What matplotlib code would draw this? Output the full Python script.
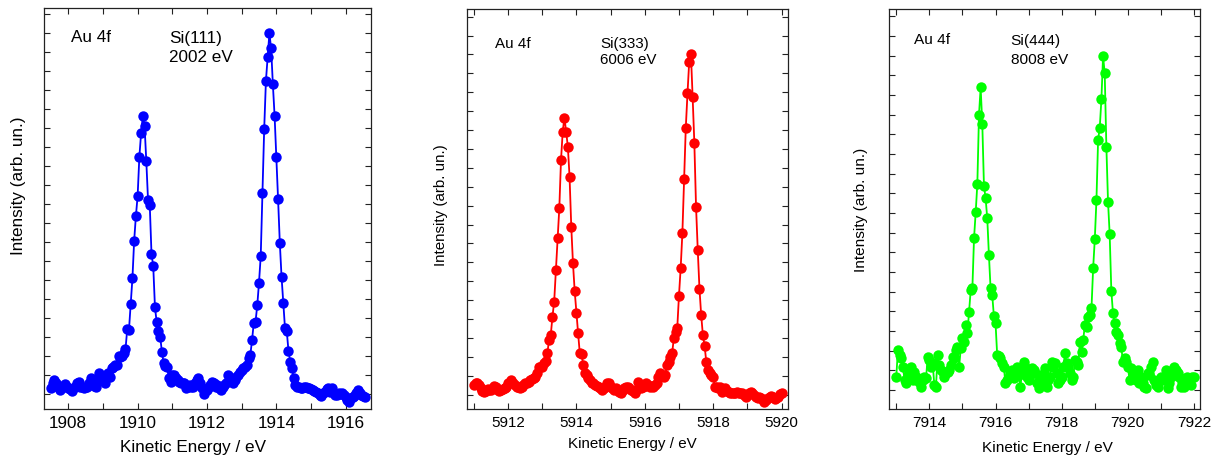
import numpy as np
import matplotlib
matplotlib.use("Agg")
import matplotlib.pyplot as plt
from matplotlib.ticker import MultipleLocator

plt.rcParams['font.family'] = ['Liberation Sans', 'DejaVu Sans']

# energy grids: start of scan, 0.05 eV step
e_step = 0.05
e_start_111 = 1907.5
e_start_333 = 5911.0
e_start_444 = 7913.0

# intensities (arb. un.)
int_111 = [18, 33, 43, 33, 23, 13, 18, 25, 31, 23, 18, 15, 11, 18, 23, 33, 38, 23, 21, 18,
           23, 23, 35, 48, 33, 25, 21, 43, 65, 53, 43, 33, 58, 63, 53, 78, 83, 88, 88, 115,
           113, 115, 125, 135, 195, 193, 270, 348, 461, 535, 595, 713, 783, 835, 805, 700, 583, 568, 421, 385,
           261, 216, 190, 173, 128, 93, 86, 83, 48, 38, 58, 58, 48, 43, 38, 33, 35, 33, 18, 23,
           28, 21, 23, 33, 43, 48, 33, 18, 0, 13, 13, 23, 28, 38, 33, 23, 28, 18, 13, 23,
           28, 33, 58, 48, 43, 33, 43, 53, 58, 68, 73, 78, 83, 88, 108, 118, 163, 215, 218, 267,
           335, 415, 603, 796, 941, 1013, 1083, 1038, 930, 835, 713, 586, 455, 353, 275, 198, 190, 131, 98, 78,
           50, 28, 23, 23, 18, 18, 21, 23, 18, 18, 15, 13, 11, 8, 3, -2, -5, 3, 8, 15,
           18, 8, 18, 3, -2, -2, 3, 1, 5, -2, -7, -17, -22, -12, -7, -5, 3, 13, 5, -2,
           -5, -7]

int_333 = [29, 34, 36, 29, 19, 12, 9, 12, 16, 14, 14, 19, 26, 22, 14, 12, 14, 16, 19, 24,
           36, 34, 44, 36, 29, 24, 22, 19, 24, 29, 34, 36, 39, 44, 46, 49, 54, 64, 84, 82,
           84, 94, 102, 124, 164, 179, 234, 279, 374, 469, 559, 704, 789, 831, 789, 744, 654, 504, 394, 311,
           246, 184, 124, 122, 89, 64, 59, 51, 44, 36, 34, 29, 26, 24, 19, 14, 19, 24, 34, 36,
           24, 19, 14, 19, 14, 9, 6, 14, 19, 24, 22, 19, 14, 12, 6, 14, 39, 29, 19, 24,
           26, 34, 29, 24, 26, 24, 29, 34, 54, 64, 56, 54, 59, 89, 99, 114, 124, 169, 189, 199,
           296, 379, 484, 647, 801, 904, 999, 1022, 894, 756, 564, 434, 318, 239, 179, 146, 99, 74, 66, 59,
           54, 24, 22, 19, 24, 9, 14, 19, 12, 9, 6, 4, 4, 6, 9, 6, 4, 6, -1, -6,
           -1, 4, 9, 6, -1, -6, -11, -8, -11, -16, -21, -16, -11, -6, -4, -8, -14, -11, -6, 2,
           6]

int_444 = [40, 120, 105, 95, 70, 30, 20, 45, 60, 70, 30, 55, 40, 35, 25, 10, 30, 40, 35, 100,
           90, 70, 80, 15, 10, 105, 75, 60, 55, 40, 50, 55, 60, 75, 100, 95, 120, 130, 70, 125,
           155, 145, 195, 170, 235, 300, 305, 455, 533, 618, 825, 908, 798, 613, 575, 515, 405, 305, 285, 222,
           200, 105, 102, 95, 80, 70, 20, 30, 40, 50, 60, 35, 55, 70, 45, 10, 50, 85, 70, 40,
           30, 45, 65, 60, 50, 20, 5, 30, 30, 50, 65, 10, 30, 40, 85, 70, 80, 50, 20, 30,
           40, 70, 110, 80, 70, 50, 30, 40, 90, 85, 75, 145, 115, 150, 195, 190, 220, 225, 245, 365,
           452, 570, 750, 787, 872, 1002, 950, 730, 565, 467, 297, 230, 202, 175, 165, 140, 130, 85, 95, 85,
           70, 30, 65, 50, 40, 30, 60, 20, 40, 20, 10, 5, 50, 45, 70, 85, 30, 15, 10, 30,
           40, 35, 30, 60, 5, 20, 40, 45, 70, 60, 50, 40, 10, 25, 10, 35, 40, 30, 15, 40,
           40]

panels = [
    dict(start=e_start_111, y=int_111, color='#0000ff', xlim=(1907.30, 1916.73), ylim=(-44, 1159),
         ytick=57, crystal='Si(111)', energy='2002 eV', fs=12.3,
         pos=[44 / 1217, 48 / 457, 327 / 1217, 401 / 457],
         au_xy=(0.083, 0.916), si_xy=(0.382, 0.912), ev_y=0.865,
         xlab=(0.456, -0.1065), ylab=(-0.0795, 0.556)),
    dict(start=e_start_333, y=int_333, color='#ff0000', xlim=(5910.80, 5920.19), ylim=(-43, 1157),
         ytick=56.7, crystal='Si(333)', energy='6006 eV', fs=10.9,
         pos=[467 / 1217, 48 / 457, 321 / 1217, 400 / 457],
         au_xy=(0.088, 0.903), si_xy=(0.415, 0.903), ev_y=0.8625,
         xlab=(0.514, -0.0968), ylab=(-0.082, 0.51)),
    dict(start=e_start_444, y=int_444, color='#00ff00', xlim=(7912.78, 7922.18), ylim=(-57, 1143),
         ytick=59, crystal='Si(444)', energy='8008 eV', fs=11.1,
         pos=[889 / 1217, 48 / 457, 311 / 1217, 400 / 457],
         au_xy=(0.081, 0.912), si_xy=(0.391, 0.91), ev_y=0.8625,
         xlab=(0.511, -0.107), ylab=(-0.090, 0.4975)),
]

fig = plt.figure(figsize=(12.17, 4.57), dpi=100)

for p in panels:
    ax = fig.add_axes(p['pos'])
    y = np.array(p['y'], dtype=float)
    x = p['start'] + e_step * np.arange(len(y))
    ax.plot(x, y, '-o', color=p['color'], lw=1.3, ms=7.5, mec=p['color'], mew=0)

    ax.set_xlim(*p['xlim'])
    ax.set_ylim(*p['ylim'])
    ax.xaxis.set_major_locator(MultipleLocator(2))
    ax.xaxis.set_minor_locator(MultipleLocator(1))
    ax.yaxis.set_major_locator(MultipleLocator(p['ytick']))
    ax.tick_params(which='both', direction='in', top=True, right=True,
                   length=4, width=0.8, color='#222222', pad=5,
                   labelsize=p['fs'], labelleft=False)
    for s in ax.spines.values():
        s.set_color('#222222')
        s.set_linewidth(0.9)

    ax.set_xlabel('Kinetic Energy / eV', fontsize=p['fs'], va='baseline')
    ax.xaxis.set_label_coords(*p['xlab'])
    ax.set_ylabel('Intensity (arb. un.)', fontsize=p['fs'], va='center', ha='center')
    ax.yaxis.set_label_coords(*p['ylab'])

    ax.text(*p['au_xy'], 'Au 4f', transform=ax.transAxes, fontsize=p['fs'], va='baseline')
    ax.text(*p['si_xy'], p['crystal'], transform=ax.transAxes, fontsize=p['fs'], va='baseline')
    ax.text(p['si_xy'][0], p['ev_y'], p['energy'], transform=ax.transAxes, fontsize=p['fs'],
            va='baseline')

fig.savefig('out.png', dpi=100)
